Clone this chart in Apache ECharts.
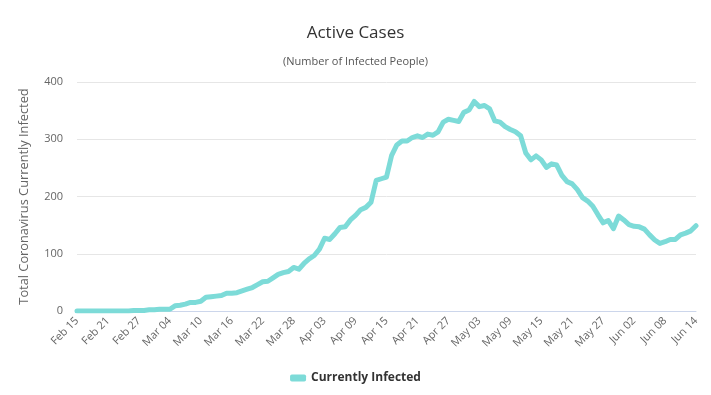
<!DOCTYPE html>
<html>
<head>
<meta charset="utf-8">
<script src="https://cdn.jsdelivr.net/npm/echarts@6/dist/echarts.min.js"></script>
<style>
html,body{margin:0;padding:0;background:#fff;}
#chart{width:711px;height:395px;}
</style>
</head>
<body>
<div id="chart"></div>
<script>
// Dates Feb 15 .. Jun 14 (2020)
const startDate = new Date(2020, 1, 15);
const dayCount = 121;
const monthNames = ['Jan','Feb','Mar','Apr','May','Jun','Jul','Aug','Sep','Oct','Nov','Dec'];
const categories = [];
for (let i = 0; i < dayCount; i++) {
  const d = new Date(startDate.getTime());
  d.setDate(startDate.getDate() + i);
  categories.push(monthNames[d.getMonth()] + ' ' + String(d.getDate()).padStart(2, '0'));
}

const currentlyInfected = [
  0,0,0,0,0,0,0,0,0,0,
  0,1,1,1,2,2,3,3,3,9,
  10,12,15,15,17,24,25,26,27,31,
  31,32,35,38,41,46,51,52,58,64,
  67,69,76,73,83,91,97,108,127,125,
  135,146,147,159,167,177,181,190,228,231,
  234,272,290,297,297,303,306,303,309,307,
  313,330,335,333,331,347,351,366,357,359,
  353,332,330,322,317,313,306,276,264,271,
  264,251,257,255,237,226,222,212,198,192,
  183,168,154,158,144,166,159,151,148,147,
  143,133,124,118,121,125,125,133,136,140,
  149
];

const yTicks = [0, 100, 200, 300, 400];

const chart = echarts.init(document.getElementById('chart'));
const font = "'Open Sans', 'DejaVu Sans', sans-serif";
chart.setOption({
  animation: false,
  title: [{
    text: 'Active Cases',
    left: 'center',
    top: 20,
    textStyle: {fontFamily: font, fontSize: 17, fontWeight: 'normal', color: '#333'}
  }, {
    text: '(Number of Infected People)',
    left: 'center',
    top: 51,
    textStyle: {fontFamily: font, fontSize: 11, fontWeight: 'normal', color: '#555'}
  }],
  legend: {
    bottom: 6,
    left: 'center',
    icon: 'roundRect',
    itemWidth: 16,
    itemHeight: 7,
    textStyle: {fontFamily: font, fontSize: 12, fontWeight: 'bold', color: '#333'},
    data: ['Currently Infected']
  },
  grid: {left: 77, right: 15, top: 82, bottom: 84},
  xAxis: {
    type: 'category',
    data: categories,
    boundaryGap: false,
    axisLine: {lineStyle: {color: '#ccd6eb'}},
    axisTick: {show: false},
    axisLabel: {
      interval: 5,
      rotate: 45,
      fontFamily: font,
      fontSize: 11,
      color: '#666',
      margin: 8
    }
  },
  yAxis: {
    type: 'value',
    min: yTicks[0],
    max: yTicks[yTicks.length - 1],
    interval: 100,
    name: 'Total Coronavirus Currently Infected',
    nameLocation: 'middle',
    nameGap: 46,
    nameTextStyle: {fontFamily: font, fontSize: 12.8, color: '#666'},
    axisLine: {show: false},
    axisTick: {show: false},
    splitLine: {lineStyle: {color: '#e6e6e6'}},
    axisLabel: {fontFamily: font, fontSize: 11, color: '#666', margin: 14}
  },
  series: [{
    name: 'Currently Infected',
    type: 'line',
    data: currentlyInfected,
    showSymbol: false,
    symbol: 'none',
    lineStyle: {width: 5, color: '#7ddbd8', join: 'round', cap: 'round'},
    itemStyle: {color: '#7ddbd8'}
  }]
});
</script>
</body>
</html>
